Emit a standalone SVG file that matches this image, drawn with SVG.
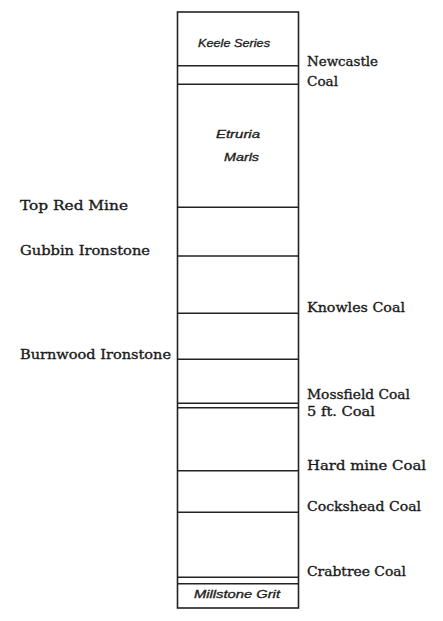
<svg xmlns="http://www.w3.org/2000/svg" width="443" height="621" viewBox="0 0 443 621">
<style>
.lbl{font-family:"DejaVu Serif","Liberation Serif",serif;font-size:13px;fill:#1a1a1a;stroke:#1a1a1a;stroke-width:0.35;}
.unit{font-family:"Liberation Sans","DejaVu Sans",sans-serif;font-size:10px;font-style:italic;fill:#222;stroke:#222;stroke-width:0.3;}
.ln{stroke:#222;stroke-width:1.6;fill:none;}
</style>
<rect width="443" height="621" fill="#fff"/>
<g id="column">
<rect class="ln" x="177.5" y="12" width="121" height="596"/>
</g>
<g id="connectors">
<line class="ln" x1="177.5" y1="65.7" x2="298.5" y2="65.7"/>
<line class="ln" x1="177.5" y1="84.3" x2="298.5" y2="84.3"/>
<line class="ln" x1="177.5" y1="207.3" x2="298.5" y2="207.3"/>
<line class="ln" x1="177.5" y1="256" x2="298.5" y2="256"/>
<line class="ln" x1="177.5" y1="313.3" x2="298.5" y2="313.3"/>
<line class="ln" x1="177.5" y1="359.3" x2="298.5" y2="359.3"/>
<line class="ln" x1="177.5" y1="403.3" x2="298.5" y2="403.3"/>
<line class="ln" x1="177.5" y1="407.7" x2="298.5" y2="407.7"/>
<line class="ln" x1="177.5" y1="470.7" x2="298.5" y2="470.7"/>
<line class="ln" x1="177.5" y1="512.3" x2="298.5" y2="512.3"/>
<line class="ln" x1="177.5" y1="577.3" x2="298.5" y2="577.3"/>
<line class="ln" x1="177.5" y1="583.7" x2="298.5" y2="583.7"/>
</g>
<g id="keele"><text class="unit" x="198" y="47" textLength="72" lengthAdjust="spacingAndGlyphs">Keele Series</text></g>
<g id="etruria"><text class="unit" x="216" y="137.5" textLength="44" lengthAdjust="spacingAndGlyphs">Etruria</text><text class="unit" x="224" y="161" textLength="35" lengthAdjust="spacingAndGlyphs">Marls</text></g>
<g id="millstone"><text class="unit" x="194" y="598" textLength="86" lengthAdjust="spacingAndGlyphs">Millstone Grit</text></g>
<g id="newcastle"><text class="lbl" x="307" y="65.5" textLength="71" lengthAdjust="spacingAndGlyphs">Newcastle</text><text class="lbl" x="307" y="86" textLength="31" lengthAdjust="spacingAndGlyphs">Coal</text></g>
<g id="knowles"><text class="lbl" x="307" y="312" textLength="98" lengthAdjust="spacingAndGlyphs">Knowles Coal</text></g>
<g id="mossfield"><text class="lbl" x="307" y="399" textLength="103" lengthAdjust="spacingAndGlyphs">Mossfield Coal</text></g>
<g id="fiveft"><text class="lbl" x="307" y="416" textLength="68" lengthAdjust="spacingAndGlyphs">5 ft. Coal</text></g>
<g id="hardmine"><text class="lbl" x="307" y="470" textLength="119" lengthAdjust="spacingAndGlyphs">Hard mine Coal</text></g>
<g id="cockshead"><text class="lbl" x="307" y="511" textLength="114" lengthAdjust="spacingAndGlyphs">Cockshead Coal</text></g>
<g id="crabtree"><text class="lbl" x="307" y="576" textLength="99" lengthAdjust="spacingAndGlyphs">Crabtree Coal</text></g>
<g id="topred"><text class="lbl" x="20" y="210" textLength="108" lengthAdjust="spacingAndGlyphs">Top Red Mine</text></g>
<g id="gubbin"><text class="lbl" x="20" y="255" textLength="130" lengthAdjust="spacingAndGlyphs">Gubbin Ironstone</text></g>
<g id="burnwood"><text class="lbl" x="20" y="359" textLength="151" lengthAdjust="spacingAndGlyphs">Burnwood Ironstone</text></g>
</svg>
